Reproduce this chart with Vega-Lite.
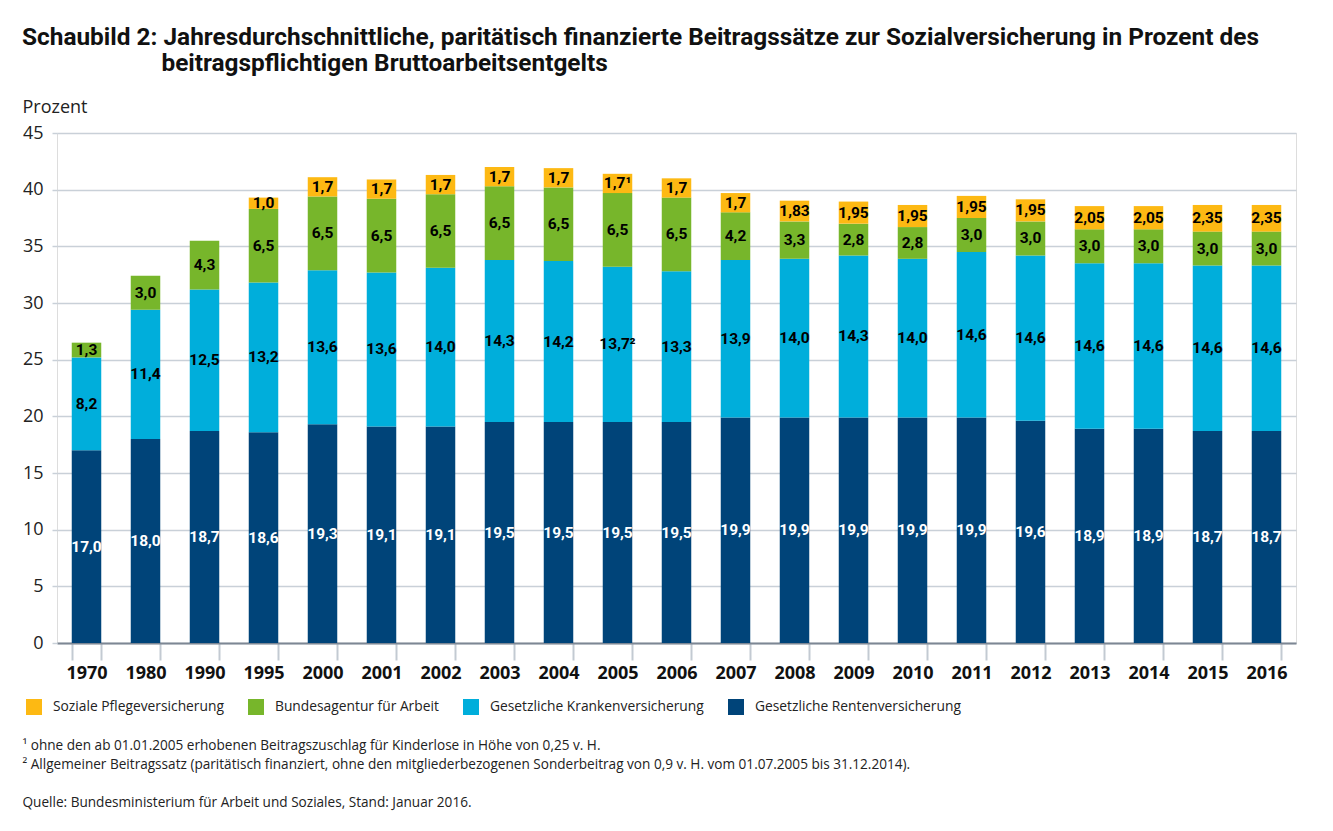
{
  "$schema": "https://vega.github.io/schema/vega-lite/v6.json",
  "width": 1239,
  "height": 510,
  "autosize": "none",
  "padding": {"left": 57, "top": 133, "right": 37, "bottom": 188},
  "background": "white",
  "title": {
    "text": ["Schaubild 2: Jahresdurchschnittliche, paritätisch finanzierte Beitragssätze zur Sozialversicherung in Prozent des", "\u200b\u00a0\u00a0\u00a0\u00a0\u00a0\u00a0\u00a0\u00a0\u00a0\u00a0\u00a0\u00a0\u00a0\u00a0\u00a0\u00a0\u00a0\u00a0\u00a0\u00a0\u00a0\u00a0\u00a0beitragspflichtigen Bruttoarbeitsentgelts"],
    "anchor": "start",
    "frame": "group",
    "dx": -35,
    "offset": 22,
    "font": "Roboto",
    "fontSize": 24.4,
    "fontWeight": "bold",
    "lineHeight": 25.5,
    "color": "#111111"
  },
  "data": {
    "values": [
      {"jahr": "1970", "zweig": "Gesetzliche Rentenversicherung", "rang": 1, "wert": 17.0, "label": "17,0"},
      {"jahr": "1970", "zweig": "Gesetzliche Krankenversicherung", "rang": 2, "wert": 8.2, "label": "8,2"},
      {"jahr": "1970", "zweig": "Bundesagentur für Arbeit", "rang": 3, "wert": 1.3, "label": "1,3"},
      {"jahr": "1980", "zweig": "Gesetzliche Rentenversicherung", "rang": 1, "wert": 18.0, "label": "18,0"},
      {"jahr": "1980", "zweig": "Gesetzliche Krankenversicherung", "rang": 2, "wert": 11.4, "label": "11,4"},
      {"jahr": "1980", "zweig": "Bundesagentur für Arbeit", "rang": 3, "wert": 3.0, "label": "3,0"},
      {"jahr": "1990", "zweig": "Gesetzliche Rentenversicherung", "rang": 1, "wert": 18.7, "label": "18,7"},
      {"jahr": "1990", "zweig": "Gesetzliche Krankenversicherung", "rang": 2, "wert": 12.5, "label": "12,5"},
      {"jahr": "1990", "zweig": "Bundesagentur für Arbeit", "rang": 3, "wert": 4.3, "label": "4,3"},
      {"jahr": "1995", "zweig": "Gesetzliche Rentenversicherung", "rang": 1, "wert": 18.6, "label": "18,6"},
      {"jahr": "1995", "zweig": "Gesetzliche Krankenversicherung", "rang": 2, "wert": 13.2, "label": "13,2"},
      {"jahr": "1995", "zweig": "Bundesagentur für Arbeit", "rang": 3, "wert": 6.5, "label": "6,5"},
      {"jahr": "1995", "zweig": "Soziale Pflegeversicherung", "rang": 4, "wert": 1.0, "label": "1,0"},
      {"jahr": "2000", "zweig": "Gesetzliche Rentenversicherung", "rang": 1, "wert": 19.3, "label": "19,3"},
      {"jahr": "2000", "zweig": "Gesetzliche Krankenversicherung", "rang": 2, "wert": 13.6, "label": "13,6"},
      {"jahr": "2000", "zweig": "Bundesagentur für Arbeit", "rang": 3, "wert": 6.5, "label": "6,5"},
      {"jahr": "2000", "zweig": "Soziale Pflegeversicherung", "rang": 4, "wert": 1.7, "label": "1,7"},
      {"jahr": "2001", "zweig": "Gesetzliche Rentenversicherung", "rang": 1, "wert": 19.1, "label": "19,1"},
      {"jahr": "2001", "zweig": "Gesetzliche Krankenversicherung", "rang": 2, "wert": 13.6, "label": "13,6"},
      {"jahr": "2001", "zweig": "Bundesagentur für Arbeit", "rang": 3, "wert": 6.5, "label": "6,5"},
      {"jahr": "2001", "zweig": "Soziale Pflegeversicherung", "rang": 4, "wert": 1.7, "label": "1,7"},
      {"jahr": "2002", "zweig": "Gesetzliche Rentenversicherung", "rang": 1, "wert": 19.1, "label": "19,1"},
      {"jahr": "2002", "zweig": "Gesetzliche Krankenversicherung", "rang": 2, "wert": 14.0, "label": "14,0"},
      {"jahr": "2002", "zweig": "Bundesagentur für Arbeit", "rang": 3, "wert": 6.5, "label": "6,5"},
      {"jahr": "2002", "zweig": "Soziale Pflegeversicherung", "rang": 4, "wert": 1.7, "label": "1,7"},
      {"jahr": "2003", "zweig": "Gesetzliche Rentenversicherung", "rang": 1, "wert": 19.5, "label": "19,5"},
      {"jahr": "2003", "zweig": "Gesetzliche Krankenversicherung", "rang": 2, "wert": 14.3, "label": "14,3"},
      {"jahr": "2003", "zweig": "Bundesagentur für Arbeit", "rang": 3, "wert": 6.5, "label": "6,5"},
      {"jahr": "2003", "zweig": "Soziale Pflegeversicherung", "rang": 4, "wert": 1.7, "label": "1,7"},
      {"jahr": "2004", "zweig": "Gesetzliche Rentenversicherung", "rang": 1, "wert": 19.5, "label": "19,5"},
      {"jahr": "2004", "zweig": "Gesetzliche Krankenversicherung", "rang": 2, "wert": 14.2, "label": "14,2"},
      {"jahr": "2004", "zweig": "Bundesagentur für Arbeit", "rang": 3, "wert": 6.5, "label": "6,5"},
      {"jahr": "2004", "zweig": "Soziale Pflegeversicherung", "rang": 4, "wert": 1.7, "label": "1,7"},
      {"jahr": "2005", "zweig": "Gesetzliche Rentenversicherung", "rang": 1, "wert": 19.5, "label": "19,5"},
      {"jahr": "2005", "zweig": "Gesetzliche Krankenversicherung", "rang": 2, "wert": 13.7, "label": "13,7²"},
      {"jahr": "2005", "zweig": "Bundesagentur für Arbeit", "rang": 3, "wert": 6.5, "label": "6,5"},
      {"jahr": "2005", "zweig": "Soziale Pflegeversicherung", "rang": 4, "wert": 1.7, "label": "1,7¹"},
      {"jahr": "2006", "zweig": "Gesetzliche Rentenversicherung", "rang": 1, "wert": 19.5, "label": "19,5"},
      {"jahr": "2006", "zweig": "Gesetzliche Krankenversicherung", "rang": 2, "wert": 13.3, "label": "13,3"},
      {"jahr": "2006", "zweig": "Bundesagentur für Arbeit", "rang": 3, "wert": 6.5, "label": "6,5"},
      {"jahr": "2006", "zweig": "Soziale Pflegeversicherung", "rang": 4, "wert": 1.7, "label": "1,7"},
      {"jahr": "2007", "zweig": "Gesetzliche Rentenversicherung", "rang": 1, "wert": 19.9, "label": "19,9"},
      {"jahr": "2007", "zweig": "Gesetzliche Krankenversicherung", "rang": 2, "wert": 13.9, "label": "13,9"},
      {"jahr": "2007", "zweig": "Bundesagentur für Arbeit", "rang": 3, "wert": 4.2, "label": "4,2"},
      {"jahr": "2007", "zweig": "Soziale Pflegeversicherung", "rang": 4, "wert": 1.7, "label": "1,7"},
      {"jahr": "2008", "zweig": "Gesetzliche Rentenversicherung", "rang": 1, "wert": 19.9, "label": "19,9"},
      {"jahr": "2008", "zweig": "Gesetzliche Krankenversicherung", "rang": 2, "wert": 14.0, "label": "14,0"},
      {"jahr": "2008", "zweig": "Bundesagentur für Arbeit", "rang": 3, "wert": 3.3, "label": "3,3"},
      {"jahr": "2008", "zweig": "Soziale Pflegeversicherung", "rang": 4, "wert": 1.83, "label": "1,83"},
      {"jahr": "2009", "zweig": "Gesetzliche Rentenversicherung", "rang": 1, "wert": 19.9, "label": "19,9"},
      {"jahr": "2009", "zweig": "Gesetzliche Krankenversicherung", "rang": 2, "wert": 14.3, "label": "14,3"},
      {"jahr": "2009", "zweig": "Bundesagentur für Arbeit", "rang": 3, "wert": 2.8, "label": "2,8"},
      {"jahr": "2009", "zweig": "Soziale Pflegeversicherung", "rang": 4, "wert": 1.95, "label": "1,95"},
      {"jahr": "2010", "zweig": "Gesetzliche Rentenversicherung", "rang": 1, "wert": 19.9, "label": "19,9"},
      {"jahr": "2010", "zweig": "Gesetzliche Krankenversicherung", "rang": 2, "wert": 14.0, "label": "14,0"},
      {"jahr": "2010", "zweig": "Bundesagentur für Arbeit", "rang": 3, "wert": 2.8, "label": "2,8"},
      {"jahr": "2010", "zweig": "Soziale Pflegeversicherung", "rang": 4, "wert": 1.95, "label": "1,95"},
      {"jahr": "2011", "zweig": "Gesetzliche Rentenversicherung", "rang": 1, "wert": 19.9, "label": "19,9"},
      {"jahr": "2011", "zweig": "Gesetzliche Krankenversicherung", "rang": 2, "wert": 14.6, "label": "14,6"},
      {"jahr": "2011", "zweig": "Bundesagentur für Arbeit", "rang": 3, "wert": 3.0, "label": "3,0"},
      {"jahr": "2011", "zweig": "Soziale Pflegeversicherung", "rang": 4, "wert": 1.95, "label": "1,95"},
      {"jahr": "2012", "zweig": "Gesetzliche Rentenversicherung", "rang": 1, "wert": 19.6, "label": "19,6"},
      {"jahr": "2012", "zweig": "Gesetzliche Krankenversicherung", "rang": 2, "wert": 14.6, "label": "14,6"},
      {"jahr": "2012", "zweig": "Bundesagentur für Arbeit", "rang": 3, "wert": 3.0, "label": "3,0"},
      {"jahr": "2012", "zweig": "Soziale Pflegeversicherung", "rang": 4, "wert": 1.95, "label": "1,95"},
      {"jahr": "2013", "zweig": "Gesetzliche Rentenversicherung", "rang": 1, "wert": 18.9, "label": "18,9"},
      {"jahr": "2013", "zweig": "Gesetzliche Krankenversicherung", "rang": 2, "wert": 14.6, "label": "14,6"},
      {"jahr": "2013", "zweig": "Bundesagentur für Arbeit", "rang": 3, "wert": 3.0, "label": "3,0"},
      {"jahr": "2013", "zweig": "Soziale Pflegeversicherung", "rang": 4, "wert": 2.05, "label": "2,05"},
      {"jahr": "2014", "zweig": "Gesetzliche Rentenversicherung", "rang": 1, "wert": 18.9, "label": "18,9"},
      {"jahr": "2014", "zweig": "Gesetzliche Krankenversicherung", "rang": 2, "wert": 14.6, "label": "14,6"},
      {"jahr": "2014", "zweig": "Bundesagentur für Arbeit", "rang": 3, "wert": 3.0, "label": "3,0"},
      {"jahr": "2014", "zweig": "Soziale Pflegeversicherung", "rang": 4, "wert": 2.05, "label": "2,05"},
      {"jahr": "2015", "zweig": "Gesetzliche Rentenversicherung", "rang": 1, "wert": 18.7, "label": "18,7"},
      {"jahr": "2015", "zweig": "Gesetzliche Krankenversicherung", "rang": 2, "wert": 14.6, "label": "14,6"},
      {"jahr": "2015", "zweig": "Bundesagentur für Arbeit", "rang": 3, "wert": 3.0, "label": "3,0"},
      {"jahr": "2015", "zweig": "Soziale Pflegeversicherung", "rang": 4, "wert": 2.35, "label": "2,35"},
      {"jahr": "2016", "zweig": "Gesetzliche Rentenversicherung", "rang": 1, "wert": 18.7, "label": "18,7"},
      {"jahr": "2016", "zweig": "Gesetzliche Krankenversicherung", "rang": 2, "wert": 14.6, "label": "14,6"},
      {"jahr": "2016", "zweig": "Bundesagentur für Arbeit", "rang": 3, "wert": 3.0, "label": "3,0"},
      {"jahr": "2016", "zweig": "Soziale Pflegeversicherung", "rang": 4, "wert": 2.35, "label": "2,35"}
    ]
  },
  "encoding": {
    "x": {
      "field": "jahr",
      "type": "nominal",
      "scale": {"paddingInner": 0.5, "paddingOuter": 0.25},
      "axis": {
        "title": ["¹ ohne den ab 01.01.2005 erhobenen Beitragszuschlag für Kinderlose in Höhe von 0,25 v. H.", "² Allgemeiner Beitragssatz (paritätisch finanziert, ohne den mitgliederbezogenen Sonderbeitrag von 0,9 v. H. vom 01.07.2005 bis 31.12.2014).", "\u200b", "Quelle: Bundesministerium für Arbeit und Soziales, Stand: Januar 2016."],
        "titleAnchor": "start",
        "titleAlign": "left",
        "titleBaseline": "alphabetic",
        "titleX": -35,
        "titleY": 106,
        "titleFont": "Open Sans",
        "titleFontSize": 13.6,
        "titleFontWeight": "normal",
        "titleLineHeight": 19,
        "titleColor": "#222222",
        "labelAngle": 0,
        "labelFont": "Open Sans",
        "labelFontSize": 18,
        "labelFontWeight": "bold",
        "labelColor": "#111111",
        "labelPadding": 4,
        "tickBand": "extent",
        "tickSize": 17,
        "tickWidth": 2,
        "tickColor": "#c3cad2",
        "domainColor": "#7d8794",
        "domainWidth": 2,
        "grid": false
      }
    },
    "y": {
      "field": "wert",
      "type": "quantitative",
      "stack": "zero",
      "scale": {"domain": [0, 45], "nice": false},
      "axis": {
        "title": "Prozent",
        "titleAngle": 0,
        "titleAlign": "left",
        "titleBaseline": "alphabetic",
        "titleX": -35,
        "titleY": -21,
        "titleFont": "Open Sans",
        "titleFontSize": 18,
        "titleFontWeight": "normal",
        "titleColor": "#222222",
        "values": [0, 5, 10, 15, 20, 25, 30, 35, 40, 45],
        "labelFont": "Open Sans",
        "labelFontSize": 18,
        "labelColor": "#222222",
        "labelPadding": 9,
        "tickSize": 5,
        "tickWidth": 1.5,
        "tickColor": "#c9d0d8",
        "gridColor": "#c9d0d8",
        "gridWidth": 1.5,
        "domain": false
      }
    },
    "order": {"field": "rang", "type": "quantitative", "sort": "ascending"}
  },
  "layer": [
    {
      "mark": {"type": "bar"},
      "encoding": {
        "color": {
          "field": "zweig",
          "type": "nominal",
          "scale": {
            "domain": ["Soziale Pflegeversicherung", "Bundesagentur für Arbeit", "Gesetzliche Krankenversicherung", "Gesetzliche Rentenversicherung"],
            "range": ["#fdb913", "#77b62b", "#00aedb", "#004479"]
          },
          "legend": {
            "title": null,
            "orient": "none",
            "direction": "horizontal",
            "legendX": -31,
            "legendY": 566,
            "symbolType": "square",
            "symbolSize": 256,
            "symbolStrokeWidth": 0,
            "symbolOpacity": 1,
            "labelFont": "Open Sans",
            "labelFontSize": 13.8,
            "labelColor": "#222222",
            "labelOffset": 11,
            "labelLimit": 0,
            "columnPadding": 24
          }
        }
      }
    },
    {
      "mark": {"type": "text", "font": "Roboto", "fontSize": 15.5, "fontWeight": "bold", "baseline": "middle"},
      "encoding": {
        "y": {"field": "wert", "type": "quantitative", "stack": "zero", "bandPosition": 0.5},
        "detail": {"field": "zweig"},
        "text": {"field": "label"},
        "color": {"condition": {"test": "datum.rang == 1", "value": "white"}, "value": "black"}
      }
    }
  ]
}
